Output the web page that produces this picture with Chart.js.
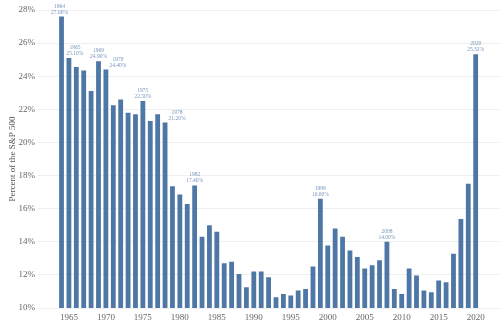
<!DOCTYPE html>
<html>
<head>
<meta charset="utf-8">
<style>
  html, body { margin: 0; padding: 0; background: #ffffff; }
  #wrap { width: 500px; height: 328px; }
</style>
<script src="https://cdn.jsdelivr.net/npm/chart.js@4.4.1/dist/chart.umd.min.js"></script>
</head>
<body>
<div id="wrap"><canvas id="chart" width="500" height="328"></canvas></div>
<script>
// Share of the S&P 500, by year
const years = [
  1964, 1965, 1966, 1967, 1968, 1969, 1970, 1971, 1972, 1973,
  1974, 1975, 1976, 1977, 1978, 1979, 1980, 1981, 1982, 1983,
  1984, 1985, 1986, 1987, 1988, 1989, 1990, 1991, 1992, 1993,
  1994, 1995, 1996, 1997, 1998, 1999, 2000, 2001, 2002, 2003,
  2004, 2005, 2006, 2007, 2008, 2009, 2010, 2011, 2012, 2013,
  2014, 2015, 2016, 2017, 2018, 2019, 2020
];
const shares = [
  27.60, 25.10, 24.55, 24.35, 23.10, 24.90, 24.40, 22.25, 22.60, 21.80,
  21.70, 22.50, 21.30, 21.70, 21.20, 17.35, 16.85, 16.28, 17.40, 14.30,
  15.00, 14.60, 12.70, 12.80, 12.05, 11.25, 12.20, 12.20, 11.85, 10.65,
  10.85, 10.75, 11.05, 11.15, 12.50, 16.60, 13.78, 14.80, 14.30, 13.48,
  13.08, 12.38, 12.58, 12.88, 14.00, 11.15, 10.85, 12.38, 11.96, 11.05,
  10.95, 11.66, 11.56, 13.28, 15.38, 17.50, 25.32
];
// Years that carry a year / value annotation
const annotatedYears = [1964, 1965, 1969, 1970, 1975, 1978, 1982, 1999, 2008, 2020];
// Tick labels
const yearTicks = [1965, 1970, 1975, 1980, 1985, 1990, 1995, 2000, 2005, 2010, 2015, 2020];
const percentTicks = [10, 12, 14, 16, 18, 20, 22, 24, 26, 28];

const SERIF = '"Liberation Serif", "DejaVu Serif", serif';

// Horizontal nudges for annotations that sit beside their bar
const labelShift = { 1964: -2, 1965: 6, 1970: 12, 1978: 12 };

const annotate = {
  id: 'annotate',
  afterDatasetsDraw(chart) {
    const ctx = chart.ctx;
    const meta = chart.getDatasetMeta(0);
    ctx.save();
    ctx.fillStyle = '#7896bc';
    ctx.textAlign = 'center';
    ctx.textBaseline = 'alphabetic';
    ctx.font = '5.5px ' + SERIF;
    annotatedYears.forEach(yr => {
      const i = years.indexOf(yr);
      const bar = meta.data[i];
      const x = bar.x + (labelShift[yr] || 0);
      const y = bar.y;
      ctx.fillText(String(yr), x, y - 9);
      ctx.fillText(shares[i].toFixed(2) + '%', x, y - 3);
    });
    ctx.restore();
  }
};

new Chart(document.getElementById('chart'), {
  type: 'bar',
  data: {
    datasets: [{
      data: years.map((y, i) => ({ x: y, y: shares[i] })),
      backgroundColor: '#4e77a5',
      borderWidth: 0,
      categoryPercentage: 1,
      barPercentage: 0.65
    }]
  },
  options: {
    responsive: false,
    animation: false,
    devicePixelRatio: 1,
    layout: { padding: { top: 10, right: 0, bottom: 0, left: 0 } },
    plugins: {
      legend: { display: false },
      tooltip: { enabled: false }
    },
    scales: {
      x: {
        type: 'linear',
        offset: false,
        min: 1960.82,
        max: 2023.29,
        afterBuildTicks(scale) { scale.ticks = yearTicks.map(v => ({ value: v })); },
        afterFit(scale) { scale.height = 20; },
        grid: { display: false, drawTicks: false, offset: false },
        border: { display: false },
        ticks: {
          padding: 4,
          color: '#666666',
          font: { family: SERIF, size: 9 },
          maxRotation: 0,
          callback: v => String(v)
        }
      },
      y: {
        min: 10,
        max: 28,
        afterBuildTicks(scale) { scale.ticks = percentTicks.map(v => ({ value: v })); },
        afterFit(scale) { scale.width = 38; },
        grid: { color: '#efefef', lineWidth: 1, drawTicks: false },
        border: { display: false },
        title: {
          display: true,
          text: 'Percent of the S&P 500',
          color: '#555555',
          font: { family: SERIF, size: 9 },
          padding: { top: 7, bottom: 0 }
        },
        ticks: {
          padding: 3,
          color: '#666666',
          font: { family: SERIF, size: 9 },
          callback: v => v + '%'
        }
      }
    }
  },
  plugins: [annotate]
});
</script>
</body>
</html>
